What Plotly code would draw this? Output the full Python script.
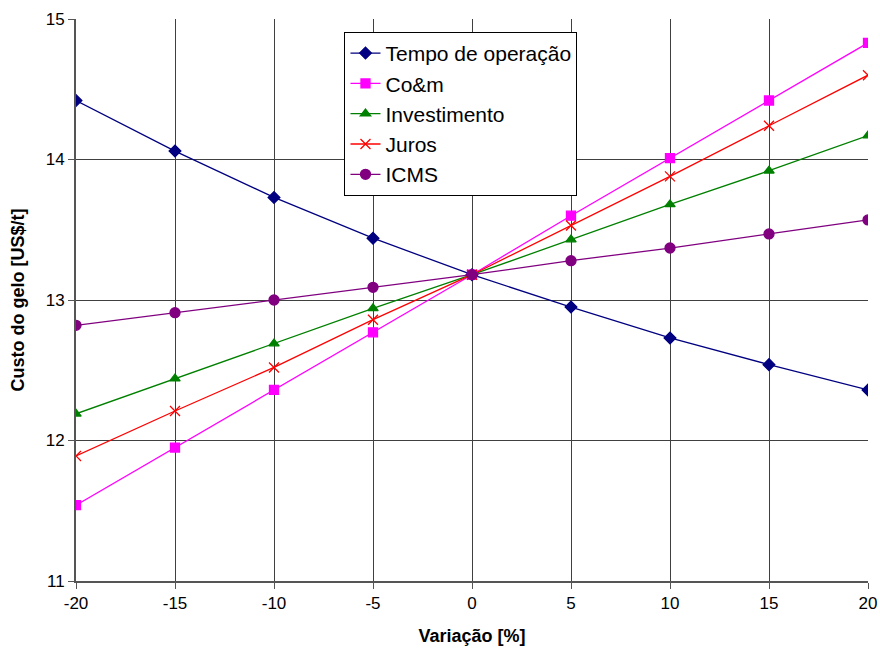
import plotly.graph_objects as go

variacao = [-20, -15, -10, -5, 0, 5, 10, 15, 20]

tempo_operacao = [14.42, 14.06, 13.73, 13.44, 13.18, 12.95, 12.73, 12.54, 12.36]
com = [11.54, 11.95, 12.36, 12.77, 13.18, 13.60, 14.01, 14.42, 14.83]
investimento = [12.19, 12.44, 12.69, 12.94, 13.18, 13.43, 13.68, 13.92, 14.17]
juros = [11.89, 12.21, 12.52, 12.86, 13.18, 13.53, 13.88, 14.24, 14.60]
icms = [12.82, 12.91, 13.00, 13.09, 13.18, 13.28, 13.37, 13.47, 13.57]

series = [
    ("Tempo de operação", tempo_operacao, "#000080", "diamond", 9),
    ("Co&m", com, "#FF00FF", "square", 9),
    ("Investimento", investimento, "#008000", "triangle-up", 9),
    ("Juros", juros, "#FF0000", "x-thin", 10),
    ("ICMS", icms, "#800080", "circle", 10),
]

fig = go.Figure()

for name, values, color, symbol, size in series:
    fig.add_trace(
        go.Scatter(
            x=variacao,
            y=values,
            name=name,
            mode="lines+markers",
            line=dict(color=color, width=1.3),
            marker=dict(
                symbol=symbol,
                size=size,
                color=color,
                line=dict(color=color, width=1.3),
            ),
        )
    )

fig.update_layout(
    width=880,
    height=655,
    paper_bgcolor="white",
    plot_bgcolor="white",
    font=dict(family="Liberation Sans, Arial", size=17, color="black"),
    margin=dict(l=76, r=12, t=19, b=74, autoexpand=False),
    showlegend=True,
    legend=dict(
        x=0.339,
        y=0.977,
        xanchor="left",
        yanchor="top",
        bgcolor="white",
        bordercolor="black",
        borderwidth=1,
        font=dict(size=21),
    ),
)

fig.update_xaxes(
    range=[-20, 20],
    tickvals=variacao,
    ticktext=[str(v) for v in variacao],
    ticklabeloverflow="allow",
    showgrid=True,
    gridcolor="#404040",
    gridwidth=1,
    zeroline=False,
    showline=True,
    linecolor="#555555",
    linewidth=2,
    ticks="outside",
    ticklen=6,
    tickcolor="#555555",
    automargin=False,
    title=dict(text="<b>Variação [%]</b>", font=dict(size=18), standoff=17),
)

fig.update_yaxes(
    range=[11, 15],
    dtick=1,
    showgrid=True,
    gridcolor="#404040",
    gridwidth=1,
    zeroline=False,
    showline=True,
    linecolor="#555555",
    linewidth=2,
    ticks="outside",
    ticklen=6,
    tickcolor="#555555",
    automargin=False,
    title=dict(text="<b>Custo do gelo [US$/t]</b>", font=dict(size=18), standoff=16),
)

# drop the default body margin so the figure fills the window
fig.write_html(
    "out.html",
    config={"displayModeBar": False},
    post_script="document.body.style.margin = '0';",
)
